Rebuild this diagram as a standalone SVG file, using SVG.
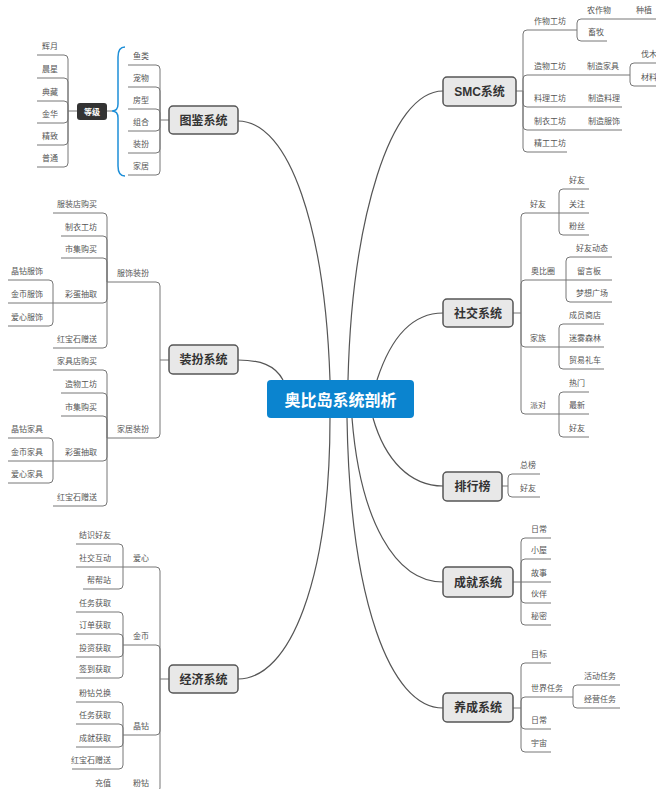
<svg xmlns="http://www.w3.org/2000/svg" width="656" height="789" viewBox="0 0 656 789">
<style>
.t{font-family:"Liberation Sans","Noto Sans CJK SC",sans-serif;font-size:8px;fill:#555;text-anchor:middle}
.ts{font-family:"Liberation Sans","Noto Sans CJK SC",sans-serif;font-size:8px;fill:#555}
.m{font-family:"Liberation Sans","Noto Sans CJK SC",sans-serif;font-size:12px;font-weight:bold;fill:#333;text-anchor:middle}
.box{fill:#e8e8e8;stroke:#555;stroke-width:1.5}
.ln{fill:none;stroke:#777;stroke-width:1}
.cv{fill:none;stroke:#555;stroke-width:1.2}
</style>
<rect width="656" height="789" fill="#fff"/>
<g id="connectors">
<path class="cv" d="M330,380 C325,230 290,121 238,121"/>
<path class="cv" d="M348,380 C352,220 390,91 443,91"/>
<path class="cv" d="M377,380 C390,340 410,313 443,313"/>
<path class="cv" d="M283,380 C275,365 260,360 238,360"/>
<path class="cv" d="M373,418 C385,460 410,486 443,486"/>
<path class="cv" d="M352,418 C360,520 395,582 443,582"/>
<path class="cv" d="M347,418 C350,600 390,708 443,708"/>
<path class="cv" d="M330,418 C330,580 290,679 238,679"/>
</g>
<g id="center">
<rect x="267" y="380" width="147" height="38" rx="4" fill="#0b84cf"/>
<text x="340.5" y="405.5" style="font-family:'Liberation Sans','Noto Sans CJK SC',sans-serif;font-size:16px;font-weight:bold;fill:#fff;text-anchor:middle">奥比岛系统剖析</text>
</g>
<g id="tujian">
<path class="ln" d="M169,120 H160 M160,120 V69 Q160,65 156,65 H128 M160,120 V91 Q160,87 156,87 H128 M160,120 V113 Q160,109 156,109 H128 M160,120 V127 Q160,131 156,131 H128 M160,120 V149 Q160,153 156,153 H128 M160,120 V171 Q160,175 156,175 H128"/>
<rect class="box" x="169" y="106" width="69" height="28" rx="4"/>
<text class="m" x="203.5" y="124.5">图鉴系统</text>
<text class="t" x="141" y="59">鱼类</text>
<text class="t" x="141" y="81">宠物</text>
<text class="t" x="141" y="103">房型</text>
<text class="t" x="141" y="125">组合</text>
<text class="t" x="141" y="147">装扮</text>
<text class="t" x="141" y="169">家居</text>
<path d="M125,47 Q118,47 118,57 V104 Q118,111 112,111 Q118,111 118,118 V166 Q118,176 125,176" fill="none" stroke="#1e8fd8" stroke-width="1.5"/>
<path class="ln" d="M112,111 H107"/>
</g>
<g id="dengji">
<path class="ln" d="M77,111 H68 M68,111 V59 Q68,55 64,55 H37 M68,111 V82 Q68,78 64,78 H37 M68,111 V105 Q68,101 64,101 H37 M68,111 V119 Q68,123 64,123 H37 M68,111 V141 Q68,145 64,145 H37 M68,111 V163 Q68,167 64,167 H37"/>
<rect x="77" y="103" width="30" height="17" rx="3" fill="#333"/>
<text x="92" y="114.5" style="font-family:'Liberation Sans','Noto Sans CJK SC',sans-serif;font-size:8px;font-weight:bold;fill:#fff;text-anchor:middle">等级</text>
<text class="t" x="50" y="49">辉月</text>
<text class="t" x="50" y="72">晨星</text>
<text class="t" x="50" y="95">典藏</text>
<text class="t" x="50" y="117">金华</text>
<text class="t" x="50" y="139">精致</text>
<text class="t" x="50" y="161">普通</text>
</g>
<g id="smc">
<path class="ln" d="M516,91 H523 M523,91 V34 Q523,30 527,30 H577 M523,91 V79 Q523,75 527,75 H577 M523,91 V103 Q523,107 527,107 H577 M523,91 V126 Q523,130 527,130 H577 M523,91 V148 Q523,152 527,152 H567 M577,30 V23 Q577,19 581,19 H620 M620,19 H660 M577,30 V37 Q577,41 581,41 H607 M577,75 H630 M630,75 V67 Q630,63 634,63 H660 M630,75 V82 Q630,86 634,86 H660 M577,107 H622 M577,130 H622"/>
<rect class="box" x="443" y="77" width="73" height="29" rx="4"/>
<text class="m" x="479.5" y="96">SMC系统</text>
<text class="t" x="550" y="24">作物工坊</text>
<text class="t" x="550" y="69">造物工坊</text>
<text class="t" x="550" y="101">料理工坊</text>
<text class="t" x="550" y="124">制衣工坊</text>
<text class="t" x="550" y="146">精工工坊</text>
<text class="t" x="599" y="13">农作物</text>
<text class="t" x="644" y="13">种植</text>
<text class="t" x="596" y="35">畜牧</text>
<text class="t" x="603" y="69">制造家具</text>
<text class="ts" x="641" y="57">伐木</text>
<text class="ts" x="641" y="80">材料</text>
<text class="t" x="604" y="101">制造料理</text>
<text class="t" x="604" y="124">制造服饰</text>
</g>
<g id="zhuangban">
<path class="ln" d="M169,360 H160 M160,360 V286 Q160,282 156,282 H107 M160,360 V434 Q160,438 156,438 H107 M107,282 V217 Q107,213 103,213 H53 M107,282 V240 Q107,236 103,236 H61 M107,282 V262 Q107,258 103,258 H61 M107,282 V299 Q107,303 103,303 H53 M107,282 V344 Q107,348 103,348 H53 M53,303 V284 Q53,280 49,280 H8 M53,303 H8 M53,303 V322 Q53,326 49,326 H8 M107,438 V374 Q107,370 103,370 H53 M107,438 V397 Q107,393 103,393 H61 M107,438 V420 Q107,416 103,416 H61 M107,438 V457 Q107,461 103,461 H53 M107,438 V502 Q107,506 103,506 H53 M53,461 V442 Q53,438 49,438 H8 M53,461 H8 M53,461 V479 Q53,483 49,483 H8"/>
<rect class="box" x="169" y="345" width="69" height="29" rx="4"/>
<text class="m" x="203.5" y="364">装扮系统</text>
<text class="t" x="133" y="276">服饰装扮</text>
<text class="t" x="133" y="432">家居装扮</text>
<text class="t" x="77" y="207">服装店购买</text>
<text class="t" x="81" y="230">制衣工坊</text>
<text class="t" x="81" y="252">市集购买</text>
<text class="t" x="81" y="297">彩蛋抽取</text>
<text class="t" x="77" y="342">红宝石赠送</text>
<text class="t" x="27" y="274">晶钻服饰</text>
<text class="t" x="27" y="297">金币服饰</text>
<text class="t" x="27" y="320">爱心服饰</text>
<text class="t" x="77" y="364">家具店购买</text>
<text class="t" x="81" y="387">造物工坊</text>
<text class="t" x="81" y="410">市集购买</text>
<text class="t" x="81" y="455">彩蛋抽取</text>
<text class="t" x="77" y="500">红宝石赠送</text>
<text class="t" x="27" y="432">晶钻家具</text>
<text class="t" x="27" y="455">金币家具</text>
<text class="t" x="27" y="477">爱心家具</text>
</g>
<g id="jingji">
<path class="ln" d="M169,679 H160 M160,679 V571 Q160,567 156,567 H123 M160,679 V649 Q160,645 156,645 H123 M160,679 V731 Q160,735 156,735 H123 M160,679 V788 Q160,792 156,792 H123 M123,567 V548 Q123,544 119,544 H76 M123,567 H76 M123,567 V585 Q123,589 119,589 H83 M123,645 V616 Q123,612 119,612 H76 M123,645 V638 Q123,634 119,634 H76 M123,645 V653 Q123,657 119,657 H76 M123,645 V674 Q123,678 119,678 H76 M123,735 V706 Q123,702 119,702 H76 M123,735 V728 Q123,724 119,724 H76 M123,735 V743 Q123,747 119,747 H76 M123,735 V765 Q123,769 119,769 H72 M123,792 H93"/>
<rect class="box" x="169" y="665" width="69" height="28" rx="4"/>
<text class="m" x="203.5" y="683.5">经济系统</text>
<text class="t" x="141" y="561">爱心</text>
<text class="t" x="141" y="639">金币</text>
<text class="t" x="141" y="729">晶钻</text>
<text class="t" x="141" y="786">粉钻</text>
<text class="t" x="95" y="538">结识好友</text>
<text class="t" x="95" y="561">社交互动</text>
<text class="t" x="99" y="583">帮帮站</text>
<text class="t" x="95" y="606">任务获取</text>
<text class="t" x="95" y="628">订单获取</text>
<text class="t" x="95" y="651">投资获取</text>
<text class="t" x="95" y="672">签到获取</text>
<text class="t" x="95" y="696">粉钻兑换</text>
<text class="t" x="95" y="718">任务获取</text>
<text class="t" x="95" y="741">成就获取</text>
<text class="t" x="91" y="763">红宝石赠送</text>
<text class="t" x="103" y="786">充值</text>
</g>
<g id="shejiao">
<path class="ln" d="M513,313 H521 M521,313 V217 Q521,213 525,213 H559 M521,313 V284 Q521,280 525,280 H566 M521,313 V343 Q521,347 525,347 H559 M521,313 V410 Q521,414 525,414 H559 M559,213 V193 Q559,189 563,189 H589 M559,213 H589 M559,213 V231 Q559,235 563,235 H589 M566,280 V261 Q566,257 570,257 H612 M566,280 H612 M566,280 V298 Q566,302 570,302 H612 M559,347 V328 Q559,324 563,324 H604 M559,347 H604 M559,347 V365 Q559,369 563,369 H604 M559,414 V396 Q559,392 563,392 H589 M559,414 H589 M559,414 V433 Q559,437 563,437 H589"/>
<rect class="box" x="443" y="299" width="70" height="28" rx="4"/>
<text class="m" x="478" y="317.5">社交系统</text>
<text class="t" x="538" y="207">好友</text>
<text class="t" x="543" y="274">奥比圈</text>
<text class="t" x="538" y="341">家族</text>
<text class="t" x="538" y="408">派对</text>
<text class="t" x="577" y="183">好友</text>
<text class="t" x="577" y="207">关注</text>
<text class="t" x="577" y="229">粉丝</text>
<text class="t" x="592" y="251">好友动态</text>
<text class="t" x="589" y="274">留言板</text>
<text class="t" x="592" y="296">梦想广场</text>
<text class="t" x="585" y="318">成员商店</text>
<text class="t" x="585" y="341">迷雾森林</text>
<text class="t" x="585" y="363">贸易礼车</text>
<text class="t" x="577" y="386">热门</text>
<text class="t" x="577" y="408">最新</text>
<text class="t" x="577" y="431">好友</text>
</g>
<g id="paihang">
<path class="ln" d="M502,486 H508 M508,486 V478 Q508,474 512,474 H540 M508,486 V493 Q508,497 512,497 H540"/>
<rect class="box" x="443" y="472" width="59" height="29" rx="4"/>
<text class="m" x="472.5" y="491">排行榜</text>
<text class="t" x="528" y="468">总榜</text>
<text class="t" x="528" y="491">好友</text>
</g>
<g id="chengjiu">
<path class="ln" d="M513,582 H521 M521,582 V542 Q521,538 525,538 H551 M521,582 V563 Q521,559 525,559 H551 M521,582 H551 M521,582 V599 Q521,603 525,603 H551 M521,582 V621 Q521,625 525,625 H551"/>
<rect class="box" x="443" y="567" width="70" height="30" rx="4"/>
<text class="m" x="478" y="586.5">成就系统</text>
<text class="t" x="539" y="532">日常</text>
<text class="t" x="539" y="553">小屋</text>
<text class="t" x="539" y="576">故事</text>
<text class="t" x="539" y="597">伙伴</text>
<text class="t" x="539" y="619">秘密</text>
</g>
<g id="yangcheng">
<path class="ln" d="M513,708 H521 M521,708 V667 Q521,663 525,663 H551 M521,708 V701 Q521,697 525,697 H573 M521,708 V725 Q521,729 525,729 H551 M521,708 V748 Q521,752 525,752 H551 M573,697 V689 Q573,685 577,685 H620 M573,697 V704 Q573,708 577,708 H620"/>
<rect class="box" x="443" y="693" width="70" height="29" rx="4"/>
<text class="m" x="478" y="712">养成系统</text>
<text class="t" x="539" y="657">目标</text>
<text class="t" x="547" y="691">世界任务</text>
<text class="t" x="539" y="723">日常</text>
<text class="t" x="539" y="746">宇宙</text>
<text class="t" x="600" y="679">活动任务</text>
<text class="t" x="600" y="702">经营任务</text>
</g>
</svg>
